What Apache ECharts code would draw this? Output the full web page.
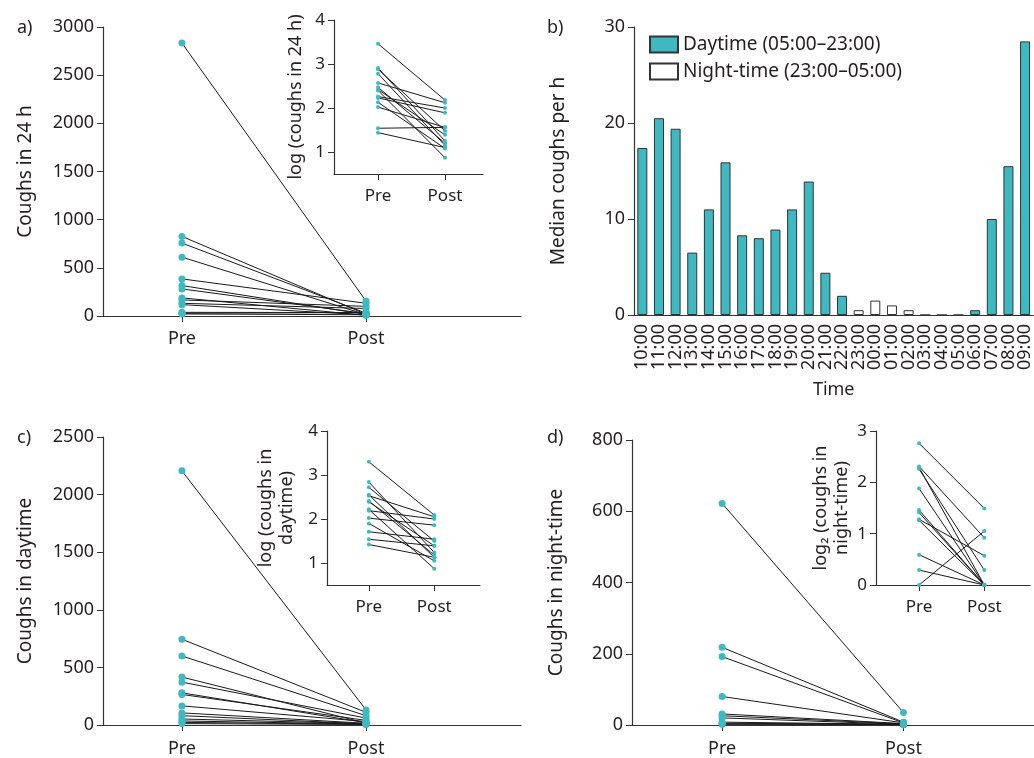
<!DOCTYPE html>
<html>
<head>
<meta charset="utf-8">
<script src="https://cdn.jsdelivr.net/npm/echarts@6/dist/echarts.min.js"></script>
<style>
  html, body { margin: 0; padding: 0; background: #fff; }
  #chart { width: 1034px; height: 758px; }
</style>
</head>
<body>
<div id="chart"></div>
<script>
// panel a: coughs in 24 h
var pre24 = [2833, 826, 757, 611, 385, 316, 281, 188, 167, 132, 118, 38, 28, 21];
var post24 = [155, 18, 30, 14, 132, 16, 25, 7, 100, 78, 12, 36, 36, 13];
var preLog24 = [3.46, 2.91, 2.88, 2.78, 2.57, 2.47, 2.42, 2.40, 2.26, 2.23, 2.13, 2.02, 1.54, 1.44];
var postLog24 = [2.18, 1.25, 1.48, 1.15, 2.12, 1.20, 1.39, 0.87, 2.00, 1.89, 1.08, 1.56, 1.56, 1.10];

// panel b: median coughs per hour
var hours = ['10:00', '11:00', '12:00', '13:00', '14:00', '15:00', '16:00', '17:00', '18:00', '19:00', '20:00', '21:00',
  '22:00', '23:00', '00:00', '01:00', '02:00', '03:00', '04:00', '05:00', '06:00', '07:00', '08:00', '09:00'];
var dayMedian = [17.4, 20.5, 19.4, 6.5, 11.0, 15.9, 8.3, 8.0, 8.9, 11.0, 13.9, 4.4, 2.0,
  '-', '-', '-', '-', '-', '-', 0, 0.5, 10.0, 15.5, 28.5];
var nightMedian = ['-', '-', '-', '-', '-', '-', '-', '-', '-', '-', '-', '-', '-',
  0.5, 1.5, 1.0, 0.5, 0, 0, '-', '-', '-', '-', '-'];

// panel c: coughs in daytime
var preDay = [2206, 744, 599, 416, 372, 279, 265, 166, 105, 81, 52, 35, 23, 12];
var postDay = [131, 110, 81, 17, 60, 20, 40, 30, 15, 10, 12, 8, 6, 5];
var preLogDay = [3.30, 2.84, 2.72, 2.55, 2.53, 2.41, 2.39, 2.22, 2.19, 2.02, 1.90, 1.71, 1.54, 1.42];
var postLogDay = [2.09, 1.24, 1.50, 1.13, 2.05, 1.18, 1.39, 0.87, 2.00, 1.86, 1.05, 1.54, 1.39, 1.13];

// panel d: coughs in night-time
var preNight = [622, 218, 192, 80, 31, 26, 20, 8, 5, 3, 2];
var postNight = [35, 8, 6, 6, 4, 3, 2, 2, 2, 1, 2];
var preLogNight = [2.76, 2.31, 2.29, 2.26, 1.88, 1.46, 1.41, 1.28, 1.26, 0.59, 0.29, 0.00];
var postLogNight = [1.49, 0.92, 0.00, 0.29, 0.00, 0.00, 0.00, 0.57, 0.00, 0.00, 0.00, 1.05];

var teal = '#3fb9c1';
var ink = '#231f20';
var font = 'Noto Sans';

var myChart = echarts.init(document.getElementById('chart'));

function xPrePost(grid, min, max, size, margin) {
  return {
    type: 'value', gridIndex: grid, min: min, max: max,
    axisLine: { lineStyle: { color: '#333', width: 1.2 } },
    axisTick: { show: true, length: 6, customValues: [1, 2], lineStyle: { color: '#333' } },
    axisLabel: {
      customValues: [1, 2], margin: margin, color: ink, fontSize: size, fontFamily: font,
      formatter: function (v) { return v === 1 ? 'Pre' : 'Post'; }
    },
    splitLine: { show: false }
  };
}

function yAxis(grid, opt, size) {
  var axis = {
    type: 'value', gridIndex: grid,
    axisLine: { show: true, lineStyle: { color: '#333', width: 1.2 } },
    axisTick: { show: true, length: 6, lineStyle: { color: '#333' } },
    axisLabel: {
      margin: 9, color: ink, fontSize: size, fontFamily: font,
      formatter: function (v) { return String(v); }
    },
    splitLine: { show: false },
    nameLocation: 'middle',
    nameRotate: 90,
    nameTextStyle: { color: ink, fontSize: size + 1, fontFamily: font, lineHeight: size + 4 }
  };
  for (var k in opt) {
    if (k === 'customValues') {
      axis.axisTick.customValues = opt[k];
      axis.axisLabel.customValues = opt[k];
    } else {
      axis[k] = opt[k];
    }
  }
  return axis;
}

function slopes(idx, pre, post, dot) {
  var out = [];
  var pts = [];
  for (var i = 0; i < pre.length; i++) {
    out.push({
      type: 'line', xAxisIndex: idx, yAxisIndex: idx,
      data: [[1, pre[i]], [2, post[i]]],
      symbol: 'none', silent: true, z: 2,
      lineStyle: { color: '#1a1a1a', width: 1 }
    });
    pts.push([1, pre[i]]);
    pts.push([2, post[i]]);
  }
  out.push({
    type: 'scatter', xAxisIndex: idx, yAxisIndex: idx, data: pts,
    symbolSize: dot, z: 4, itemStyle: { color: teal, opacity: 1 }
  });
  return out;
}

var series = [];
series = series.concat(slopes(0, pre24, post24, 7));
series = series.concat(slopes(1, preLog24, postLog24, 4));
series.push({
  name: 'Daytime (05:00–23:00)', type: 'bar', xAxisIndex: 2, yAxisIndex: 2,
  data: dayMedian, barWidth: 10, barGap: '-100%',
  itemStyle: { color: teal, borderColor: '#333', borderWidth: 1 }
});
series.push({
  name: 'Night-time (23:00–05:00)', type: 'bar', xAxisIndex: 2, yAxisIndex: 2,
  data: nightMedian, barWidth: 10, barGap: '-100%',
  itemStyle: { color: '#fff', borderColor: '#333', borderWidth: 1 }
});
series = series.concat(slopes(3, preDay, postDay, 7));
series = series.concat(slopes(4, preLogDay, postLogDay, 4));
series = series.concat(slopes(5, preNight, postNight, 7));
series = series.concat(slopes(6, preLogNight, postLogNight, 4));

myChart.setOption({
  animation: false,
  textStyle: { fontFamily: font },
  grid: [
    { left: 103, top: 27, width: 418, height: 289 },
    { left: 334, top: 20, width: 149, height: 154 },
    { left: 634, top: 27, width: 403, height: 288 },
    { left: 103, top: 437, width: 418, height: 289 },
    { left: 327, top: 431, width: 153, height: 154 },
    { left: 632, top: 440, width: 402, height: 287 },
    { left: 876, top: 431, width: 154, height: 154 }
  ],
  legend: {
    orient: 'vertical', left: 644, top: 30,
    itemWidth: 28, itemHeight: 16, itemGap: 8,
    textStyle: { color: ink, fontSize: 19, fontFamily: font },
    data: [
      { name: 'Daytime (05:00–23:00)', icon: 'rect' },
      { name: 'Night-time (23:00–05:00)', icon: 'rect' }
    ]
  },
  graphic: [
    { type: 'text', left: 17, top: 19, style: { text: 'a)', fontSize: 18, fontFamily: font, fill: ink } },
    { type: 'text', left: 547, top: 19, style: { text: 'b)', fontSize: 18, fontFamily: font, fill: ink } },
    { type: 'text', left: 17, top: 429, style: { text: 'c)', fontSize: 18, fontFamily: font, fill: ink } },
    { type: 'text', left: 547, top: 429, style: { text: 'd)', fontSize: 18, fontFamily: font, fill: ink } }
  ],
  xAxis: [
    xPrePost(0, 0.571, 2.842, 18, 14),
    xPrePost(1, 0.343, 2.567, 17, 14),
    {
      type: 'category', gridIndex: 2, data: hours,
      name: 'Time', nameLocation: 'middle', nameGap: 66,
      nameTextStyle: { color: ink, fontSize: 18, fontFamily: font },
      axisLine: { lineStyle: { color: '#333', width: 1.2 } },
      axisTick: { alignWithLabel: true, length: 6, lineStyle: { color: '#333' } },
      axisLabel: { rotate: 90, interval: 0, margin: 9, color: ink, fontSize: 18, fontFamily: font }
    },
    xPrePost(3, 0.571, 2.842, 18, 15),
    xPrePost(4, 0.36, 2.70, 17, 14),
    xPrePost(5, 0.503, 2.72, 18, 15),
    xPrePost(6, 0.34, 2.70, 17, 14)
  ],
  yAxis: [
    yAxis(0, { min: 0, max: 3000, interval: 500, name: 'Coughs in 24 h', nameGap: 66 }, 18),
    yAxis(1, { min: 0.5, max: 4, customValues: [1, 2, 3, 4], name: 'log (coughs in 24 h)', nameGap: 28 }, 17),
    yAxis(2, { min: 0, max: 30, interval: 10, name: 'Median coughs per h', nameGap: 64 }, 18),
    yAxis(3, { min: 0, max: 2500, interval: 500, name: 'Coughs in daytime', nameGap: 66 }, 18),
    yAxis(4, { min: 0.5, max: 4, customValues: [1, 2, 3, 4], name: 'log (coughs in\ndaytime)', nameGap: 30 }, 17),
    yAxis(5, { min: 0, max: 800, interval: 200, name: 'Coughs in night-time', nameGap: 64 }, 18),
    yAxis(6, { min: 0, max: 3, interval: 1, name: 'log\u2082 (coughs in\nnight-time)', nameGap: 24 }, 17)
  ],
  series: series
});
</script>
</body>
</html>
